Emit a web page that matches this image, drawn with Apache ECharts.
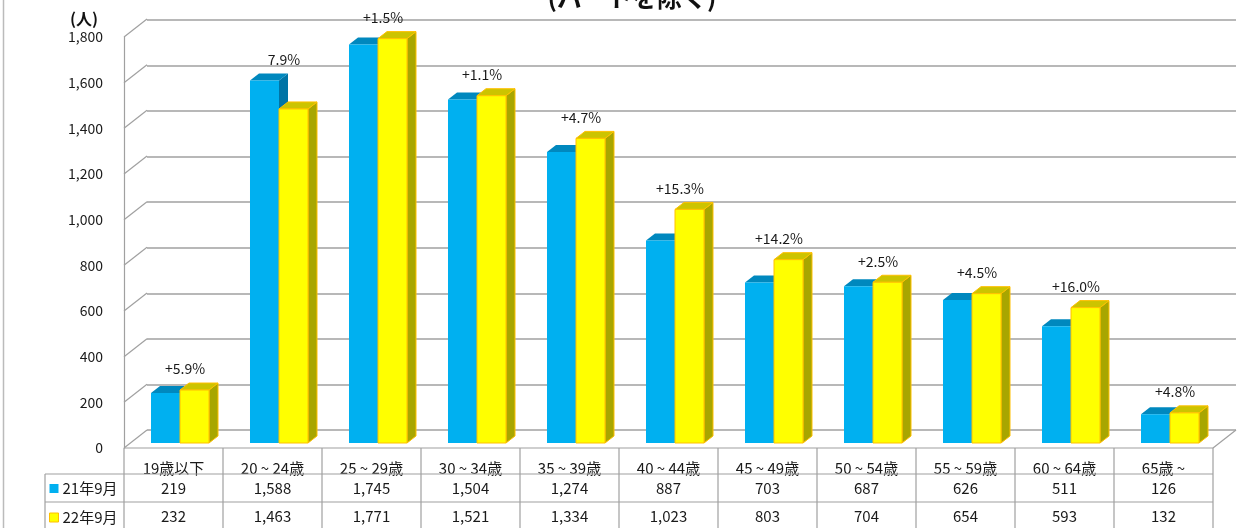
<!DOCTYPE html>
<html><head><meta charset="utf-8">
<script src="https://cdn.jsdelivr.net/npm/echarts@6/dist/echarts.min.js"></script>
<style>html,body{margin:0;padding:0;background:#fff}#c{width:1256px;height:528px}</style>
</head><body><div id="c"></div>
<script>
const categories = ['19歳以下','20 ~ 24歳','25 ~ 29歳','30 ~ 34歳','35 ~ 39歳','40 ~ 44歳','45 ~ 49歳','50 ~ 54歳','55 ~ 59歳','60 ~ 64歳','65歳 ~'];
const seriesNames = ['21年9月','22年9月'];
const values2021 = [219,1588,1745,1504,1274,887,703,687,626,511,126];
const values2022 = [232,1463,1771,1521,1334,1023,803,704,654,593,132];
const changeLabels = ['+5.9%','7.9%','+1.5%','+1.1%','+4.7%','+15.3%','+14.2%','+2.5%','+4.5%','+16.0%','+4.8%'];
const yTicks = [0,200,400,600,800,1000,1200,1400,1600,1800];
const titleText = '(パートを除く)';
const unitText = '(人)';

const FONT = '"Noto Sans CJK JP", "Noto Sans", sans-serif';
const fmt = v => v.toLocaleString('en-US');
const LINE = '#A0A0A0';
const TXT = '#1a1a1a';
const DEPTH_X = 23, DEPTH_Y = 18;

const chart = echarts.init(document.getElementById('c'), null, {renderer:'canvas'});

function frameRender(params, api){
  const v = api.value(1);
  const band = api.size([1,0])[0];
  const p = api.coord([0, v]);
  const x0 = p[0] - band/2;
  const y = p[1];
  const children = [{type:'line', shape:{x1:x0, y1:y, x2:x0+DEPTH_X, y2:y-DEPTH_Y}, style:{stroke:LINE, lineWidth:1.2}}];
  if (v === 0) {
    const x1 = x0 + band*categories.length;
    children.push({type:'line', shape:{x1:x0, y1:y, x2:x1, y2:y}, style:{stroke:LINE, lineWidth:1.2}});
    children.push({type:'line', shape:{x1:x1, y1:y, x2:x1+DEPTH_X, y2:y-DEPTH_Y}, style:{stroke:LINE, lineWidth:1.2}});
    const hx = x0 - 79;
    const yb = 528;
    for (let k=0;k<=categories.length;k++){
      const xx = x0 + band*k;
      children.push({type:'line', shape:{x1:xx, y1:y, x2:xx, y2:yb}, style:{stroke:LINE, lineWidth:1.2}});
    }
    children.push({type:'line', shape:{x1:hx, y1:y+26, x2:x1, y2:y+26}, style:{stroke:LINE, lineWidth:1.2}});
    children.push({type:'line', shape:{x1:hx, y1:y+54, x2:x1, y2:y+54}, style:{stroke:LINE, lineWidth:1.2}});
    children.push({type:'line', shape:{x1:hx, y1:y+26, x2:hx, y2:yb}, style:{stroke:LINE, lineWidth:1.2}});
  }
  return {type:'group', children};
}

function tableRender(params, api){
  const i = api.value(0), v = api.value(1), row = api.value(2);
  const p = api.coord([i, 0]);
  return {type:'text', style:{x:p[0], y:p[1]+40+row*28, text:fmt(v), align:'center', verticalAlign:'middle', font:'15px '+FONT, fill:TXT}};
}

function makeBarRender(isLeft, c){
  return function(params, api){
    const i = api.value(0), v = api.value(1);
    const top = api.coord([i, v]);
    const base = api.coord([i, 0]);
    const band = api.size([1,0])[0];
    const w = band*0.293;
    const x = isLeft ? top[0]-w : top[0];
    const dx = 9, dy = 7;
    const yt = top[1], yb = base[1];
    const stroke = c.stroke || null;
    return {type:'group', children:[
      {type:'polygon', shape:{points:[[x+w,yt],[x+w+dx,yt-dy],[x+w+dx,yb-dy],[x+w,yb]]}, style:{fill:c.side, stroke:stroke, lineWidth:stroke?1:0}},
      {type:'polygon', shape:{points:[[x,yt],[x+dx,yt-dy],[x+w+dx,yt-dy],[x+w,yt]]}, style:{fill:c.top, stroke:stroke, lineWidth:stroke?1:0}},
      {type:'rect', shape:{x:x, y:yt, width:w, height:yb-yt}, style:{fill:c.front, stroke:stroke, lineWidth:stroke?1:0}}
    ]};
  };
}

function labelRender(params, api){
  const i = api.value(0), v = api.value(1);
  const p = api.coord([i, v]);
  return {type:'text', style:{x:p[0]+5, y:p[1]-21, text:changeLabels[i], align:'center', verticalAlign:'middle', font:'14px '+FONT, fill:TXT}};
}

const blue = {front:'#00B0F0', top:'#0088BE', side:'#0074A6'};
const yellow = {front:'#FFFF00', top:'#CCC400', side:'#A8A600', stroke:'#FFC000'};

const option = {
  backgroundColor:'#fff',
  animation:false,
  textStyle:{fontFamily:FONT},
  grid:[
    {left:124, right:43, top:37, bottom:80},
    {left:147, right:20, top:20, bottom:98},
    {left:130.5, right:36.5, top:32, bottom:85}
  ],
  xAxis:[
    {type:'category', gridIndex:0, data:categories, axisLine:{show:false}, axisTick:{show:false},
     axisLabel:{interval:0, margin:13, fontSize:15, color:TXT, fontFamily:FONT}},
    {type:'category', gridIndex:1, data:categories, axisLine:{show:false}, axisTick:{show:false}, axisLabel:{show:false}},
    {type:'category', gridIndex:2, data:categories, show:false}
  ],
  yAxis:[
    {type:'value', gridIndex:0, min:0, max:1800, interval:200, splitLine:{show:false},
     axisLine:{show:true, lineStyle:{color:LINE, width:1.2}}, axisTick:{show:false},
     axisLabel:{margin:21, fontSize:14, color:TXT, fontFamily:FONT, formatter:v=>fmt(v)}},
    {type:'value', gridIndex:1, min:0, max:1800, interval:200, axisLine:{show:false}, axisTick:{show:false}, axisLabel:{show:false},
     splitLine:{show:true, lineStyle:{color:LINE, width:1.5}}},
    {type:'value', gridIndex:2, min:0, max:1800, interval:200, show:false}
  ],
  legend:{
    orient:'vertical', left:49, top:481, itemWidth:9, itemHeight:9, itemGap:14, padding:0,
    icon:'rect', selectedMode:false,
    textStyle:{fontSize:15, lineHeight:14, color:TXT, fontFamily:FONT, padding:[0,0,0,-1]},
    data:[
      {name:seriesNames[0], itemStyle:{color:blue.front}},
      {name:seriesNames[1], itemStyle:{color:yellow.front, borderColor:yellow.stroke, borderWidth:1}}
    ]
  },
  graphic:[
    {type:'line', shape:{x1:3.5, y1:0, x2:3.5, y2:528}, style:{stroke:'#BBBBBB', lineWidth:1.5}},
    {type:'text', style:{x:632, y:-3, text:titleText, align:'center', verticalAlign:'middle', font:'bold 25px '+FONT, fill:'#111'}},
    {type:'text', style:{x:70, y:19, text:unitText, align:'left', verticalAlign:'middle', font:'bold 16px '+FONT, fill:'#111'}}
  ],
  series:[
    {type:'custom', name:'frame', xAxisIndex:0, yAxisIndex:0, renderItem:frameRender, data:yTicks.map(v=>[0,v]), silent:true, z:5},
    {type:'custom', name:'table', xAxisIndex:0, yAxisIndex:0, renderItem:tableRender,
     data: values2021.map((v,i)=>[i,v,0]).concat(values2022.map((v,i)=>[i,v,1])), silent:true, z:5},
    {type:'custom', name:seriesNames[0], xAxisIndex:2, yAxisIndex:2, renderItem:makeBarRender(true, blue),
     itemStyle:{color:blue.front}, data:values2021.map((v,i)=>[i,v]), z:3},
    {type:'custom', name:seriesNames[1], xAxisIndex:2, yAxisIndex:2, renderItem:makeBarRender(false, yellow),
     itemStyle:{color:yellow.front, borderColor:yellow.stroke}, data:values2022.map((v,i)=>[i,v]), z:4},
    {type:'custom', name:'labels', xAxisIndex:2, yAxisIndex:2, renderItem:labelRender,
     data:categories.map((c,i)=>[i, Math.max(values2021[i], values2022[i])]), silent:true, z:6}
  ]
};
chart.setOption(option);
</script></body></html>
